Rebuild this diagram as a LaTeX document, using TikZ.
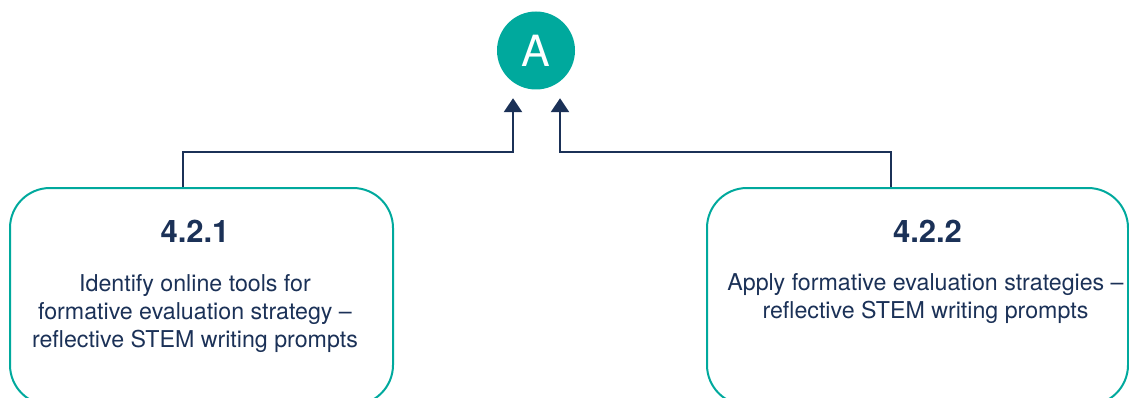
\documentclass[tikz,border=0pt]{standalone}
\usepackage{fontspec}
\setmainfont{TeX Gyre Heros}
\usetikzlibrary{arrows.meta,positioning}
\definecolor{GoalTeal}{HTML}{00A99D}
\definecolor{GoalNavy}{HTML}{1B3157}

\begin{document}
\begin{tikzpicture}[x=1pt,y=1pt]
    \tikzset{
      goalbox/.style={draw=GoalTeal,line width=2pt,rounded corners=40pt,minimum height=217pt},
      goalnum/.style={font=\fontsize{31}{34}\selectfont\bfseries,text=GoalNavy,inner sep=0pt},
      goaltext/.style={font=\fontsize{23.2}{28}\selectfont,text=GoalNavy,align=center,inner sep=0pt},
      link/.style={draw=GoalNavy,line width=2.5pt,-{Triangle[width=18pt,length=14pt]}}
    }
    \useasboundingbox (0,0) rectangle (1129,397);
    \node[circle,fill=GoalTeal,minimum size=78pt,text=white,font=\fontsize{43}{43}\selectfont] (a) at (536,346.5) {A};
    % the two sub-goal boxes run off the bottom edge
    \node[goalbox,minimum width=383pt] (b1) at (201.5,100.5) {};
    \node[goalbox,minimum width=421pt] (b2) at (917.5,100.5) {};
    \node[goalnum,below=33pt of b1.north,xshift=-6.5pt] (n1) {4.2.1};
    \node[goaltext,below=127pt of b1.north,xshift=-6.5pt,anchor=center] (t1)
      {Identify online tools for\\formative evaluation strategy --\\reflective STEM writing prompts};
    \node[goalnum,below=33pt of b2.north,xshift=10pt] (n2) {4.2.2};
    \node[goaltext,below=112pt of b2.north,xshift=8pt,anchor=center] (t2)
      {Apply formative evaluation strategies --\\reflective STEM writing prompts};
    \draw[link] ([xshift=-18.5pt]b1.north) -- ++(0,35) -| ([xshift=-23pt,yshift=-8.5pt]a.south);
    \draw[link] ([xshift=-26.5pt]b2.north) -- ++(0,35) -| ([xshift=24pt,yshift=-8.5pt]a.south);
  \end{tikzpicture}
\end{document}
